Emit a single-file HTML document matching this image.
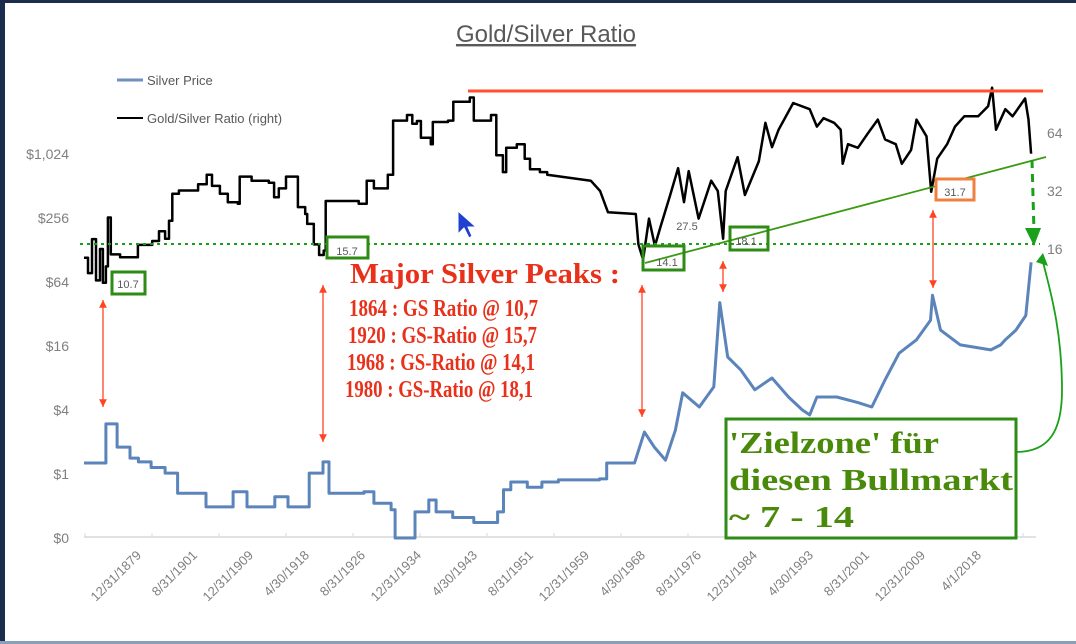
<!DOCTYPE html>
<html><head><meta charset="utf-8"><style>
html,body{margin:0;padding:0;background:#fff;}
svg{display:block;font-family:"Liberation Sans",sans-serif;}
</style></head><body>
<svg width="0" height="0" style="position:absolute">
<defs>
<marker id="ra" viewBox="0 0 10 10" refX="10" refY="5" markerWidth="6" markerHeight="6" orient="auto-start-reverse"><path d="M0,0 L10,5 L0,10 z" fill="#ff4422"/></marker>
</defs>
</svg>
<svg id="chart" width="1076" height="644" viewBox="0 0 1076 644">
<rect x="0" y="0" width="1076" height="644" fill="#fff"/>
<rect x="0" y="0" width="1076" height="3" fill="#1c2c4c"/>
<rect x="0" y="0" width="5" height="644" fill="#1c2c4c"/>
<rect x="0" y="641" width="1076" height="3" fill="#8aa0b8"/>
<text x="546" y="42" text-anchor="middle" font-size="24" fill="#595959" text-decoration="underline">Gold/Silver Ratio</text>
<g>
<line x1="117" y1="80" x2="143" y2="80" stroke="#6f8fbf" stroke-width="3"/>
<text x="147" y="85" font-size="13" fill="#595959">Silver Price</text>
<line x1="117" y1="118" x2="143" y2="118" stroke="#000" stroke-width="2"/>
<text x="147" y="123" font-size="13" fill="#595959">Gold/Silver Ratio (right)</text>
</g>
<g id="axes"></g>
<g id="marks"></g>
<g id="annot"></g>
</svg>
<script>
// ---- data ----
const leftTicks = [0.25, 1, 4, 16, 64, 256, 1024];
const leftTickLabels = ["$0", "$1", "$4", "$16", "$64", "$256", "$1,024"];
const rightTicks = [16, 32, 64];
const dateLabels = ["12/31/1879","8/31/1901","12/31/1909","4/30/1918","8/31/1926","12/31/1934","4/30/1943","8/31/1951","12/31/1959","4/30/1968","8/31/1976","12/31/1984","4/30/1993","8/31/2001","12/31/2009","4/1/2018"];
const labelYears = [1880,1901.67,1910,1918.33,1926.67,1935,1943.33,1951.67,1960,1968.33,1976.67,1985,1993.33,2001.67,2010,2018.25];
const silverYears = [1864,1868,1874,1876.1,1881.6,1886.7,1890,1895,1900.5,1903.1,1907.4,1911.5,1913.6,1917.8,1919.8,1923,1925.1,1926,1931.3,1932.8,1935.4,1936,1938.6,1939,1941.1,1942.2,1944.7,1947.9,1950.9,1951.5,1952.4,1953.5,1956,1958.2,1960.7,1966.9,1968,1972.2,1973.7,1975.2,1976.9,1978.4,1979.5,1982,1984.2,1985.1,1986.3,1988.3,1990.4,1993,1995.5,1997.6,1998.7,1999.8,2002.8,2006,2008.1,2010.1,2012.2,2014.8,2016.9,2017.2,2018.4,2021.4,2026,2027.5,2028.2,2029.8,2031.3,2032.1];
const silverValues = [1.27,1.27,1.27,2.96,1.79,1.41,1.3,1.15,1.02,0.66,0.49,0.68,0.49,0.61,0.49,1.02,1.3,0.66,0.68,0.53,0.46,0.25,0.25,0.44,0.57,0.44,0.39,0.35,0.35,0.44,0.71,0.84,0.75,0.84,0.88,0.9,1.27,1.27,2.48,1.79,1.35,2.59,5.8,4.27,6.6,41,12.6,9.5,6.2,8.0,5.3,4.0,3.6,5.3,5.3,4.7,4.27,7.7,13.7,18.3,28,48,22.6,16.4,14.7,16.4,18.3,22.6,31,98];
const ratioYears = [1864,1866.2,1868.4,1870.6,1872.8,1874.4,1876.1,1877.2,1878.8,1882.8,1885.5,1889.8,1895.4,1898.1,1900.5,1901.8,1902.3,1903.3,1905.1,1906.2,1907.5,1908.3,1909.5,1910.7,1912.2,1912.5,1914.3,1916.9,1917.7,1918.4,1919.5,1920.6,1921.3,1922.4,1922.7,1923.7,1924.5,1925.2,1925.5,1927.4,1928.4,1930.5,1931.6,1931.7,1932.8,1934.3,1934.9,1935.7,1937.8,1938.6,1939.3,1939.9,1941.4,1941.7,1944,1944.8,1947.3,1947.9,1950.5,1951.3,1952.3,1952.8,1954.4,1955.6,1956.4,1957.9,1959,1965.6,1967,1968.2,1972.4,1972.8,1973.5,1974.4,1975.3,1976.2,1977.6,1978.8,1979.7,1980.4,1981.9,1983.8,1984.8,1985.6,1986,1987.8,1988.9,1991,1992,1993,1994,1996.2,1998.7,1999.8,2000.8,2002.4,2003.4,2003.7,2004.5,2006,2007.5,2009,2010.1,2011.7,2012.6,2014,2014.8,2016.3,2017,2017.9,2019.4,2020.6,2022,2024.1,2025.6,2026.2,2026.8,2028.2,2029.3,2031.2,2031.7,2032.1];
const ratioValues = [14.4,12,18,11,16,10.7,13,23.3,15,14.5,14.5,16.8,17.6,19.8,18.1,22.4,31,32.2,32.2,34.7,38.9,34,31,28,27.5,38,36.2,35.3,29.7,33,38,38,26.4,24.3,21.6,16.9,14.9,15.7,28.4,28.4,28.4,27.5,27.5,36.2,33,33,38.9,74.2,79.4,71.4,73.9,60.4,56,73,74.2,93,97.8,74.2,79.4,49,40.1,53.6,56,47.1,41.5,40.1,38.9,36.2,32,24.8,24.3,16.9,14.1,23,16.6,21.2,30.5,42,28,40.6,23,36.2,32,18.1,32,48,30.5,45.6,72.3,54,66.6,91.6,85.1,69.1,76.4,72.3,66.6,44.3,56,53.6,63.8,75.1,59.2,56,44.3,52.3,75.1,61.5,31.7,47.1,56,69.1,78.1,78.1,88.1,110,66.6,85.1,78.1,96.7,75.1,50];

// ---- scales ----
function x(year){
  if (year < labelYears[0]) return 113 - (labelYears[0]-year)/0.552;
  for (let i=0;i<labelYears.length-1;i++){
    if (year <= labelYears[i+1]) return 113 + 55.1*(i + (year-labelYears[i])/(labelYears[i+1]-labelYears[i]));
  }
  const n = labelYears.length-1;
  return 113 + 55.1*n + (year-labelYears[n])/0.1512;
}
function yL(v){ return 474 - 32*Math.log2(v); }
function yR(r){ return 249 - 58*Math.log2(r/16); }
// step rendering for early (annual-data) era, continuous afterwards
function pathPoints(years, vals, yf, stepUntil){
  const pts = [];
  for (let i=0;i<years.length;i++){
    const px = x(years[i]), py = yf(vals[i]);
    if (i>0 && years[i] <= stepUntil){
      pts.push(px.toFixed(1)+','+yf(vals[i-1]).toFixed(1));
    }
    pts.push(px.toFixed(1)+','+py.toFixed(1));
  }
  return pts.join(' ');
}

const NS = "http://www.w3.org/2000/svg";
function mk(tag, attrs, parent, txt){
  const e = document.createElementNS(NS, tag);
  for (const k in attrs) e.setAttribute(k, attrs[k]);
  if (txt !== undefined) e.textContent = txt;
  parent.appendChild(e);
  return e;
}
const axes = document.getElementById('axes');
const marks = document.getElementById('marks');

let bl = mk('line',{x1:84,y1:537,x2:1036,y2:537,stroke:'#d9d9d9','stroke-width':1.5},axes);


for (let tx=85; tx<1036; tx+=67){
  let t = mk('line',{x1:tx,y1:533,x2:tx,y2:537,stroke:'#d9d9d9'},axes);
  
  
}
leftTicks.forEach((v,i)=>{
  let t = mk('text',{x:69,y:yL(v)+5,'text-anchor':'end','font-size':14,fill:'#7f7f7f'},axes,leftTickLabels[i]);
  
  
});
rightTicks.forEach(v=>{
  let t = mk('text',{x:1047,y:yR(v)+5,'font-size':14,fill:'#7f7f7f'},axes,String(v));
  
  
});
dateLabels.forEach((lab,i)=>{
  const lx = x(labelYears[i]) + 29 + 0.9*i;
  let t = mk('text',{x:0,y:0,'text-anchor':'end','font-size':13,fill:'#7f7f7f',transform:'translate('+lx+',556) rotate(-45)'},axes,lab);
  
  
});

let s = mk('polyline',{points:pathPoints(silverYears,silverValues,yL,1968),fill:'none',stroke:'#5b84bb','stroke-width':3,'stroke-linejoin':'round'},marks);


let r = mk('polyline',{points:pathPoints(ratioYears,ratioValues,yR,1960),fill:'none',stroke:'#000','stroke-width':2.5,'stroke-linejoin':'round'},marks);



const an = document.getElementById('annot');
an.innerHTML = `
<line x1="468" y1="91" x2="1043" y2="91" stroke="#ff5030" stroke-width="3"/>
<line x1="80" y1="244" x2="1040" y2="244" stroke="#1aa01a" stroke-width="2" stroke-dasharray="3,4"/>
<line x1="645" y1="263" x2="1046" y2="157" stroke="#3a9a10" stroke-width="1.8"/>
<line x1="1032" y1="160" x2="1034" y2="232" stroke="#1aa01a" stroke-width="3" stroke-dasharray="8,6"/>
<path d="M1025,228 L1041,228 L1034,246 z" fill="#1aa01a"/>
<path d="M1016,452 C1050,452 1062,430 1062,390 C1062,330 1050,290 1043,262" fill="none" stroke="#1aa01a" stroke-width="1.8"/>
<path d="M1036,262 L1043,253 L1048,266 z" fill="#1aa01a"/>
<rect x="112" y="272" width="33" height="22" fill="#fff" stroke="#2e8b14" stroke-width="3"/>
<text x="128" y="288" text-anchor="middle" font-size="11" fill="#595959">10.7</text>
<rect x="327" y="237" width="41" height="21" fill="#fff" stroke="#2e8b14" stroke-width="3"/>
<text x="347" y="255" text-anchor="middle" font-size="11" fill="#595959">15.7</text>
<rect x="643" y="246" width="41" height="24" fill="none" stroke="#2e8b14" stroke-width="3"/>
<text x="667" y="266" text-anchor="middle" font-size="11" fill="#595959">14.1</text>
<rect x="730" y="227" width="38" height="23" fill="none" stroke="#2e8b14" stroke-width="3"/>
<text x="746" y="245" text-anchor="middle" font-size="11" fill="#595959">18.1</text>
<rect x="936" y="179" width="38" height="21" fill="#fff" stroke="#f08040" stroke-width="3"/>
<text x="955" y="196" text-anchor="middle" font-size="11" fill="#595959">31.7</text>
<text x="687" y="230" text-anchor="middle" font-size="11" fill="#595959">27.5</text>
<path d="M458,211 L458,234 L464,228 L469,238 L472,236 L468,227 L476,227 z" fill="#2040d0" stroke="#fff" stroke-width="1"/>
<g stroke="#ff4422" stroke-width="1.3">
<line x1="103" y1="300" x2="103" y2="407" marker-start="url(#ra)" marker-end="url(#ra)"/>
<line x1="323" y1="285" x2="323" y2="442" marker-start="url(#ra)" marker-end="url(#ra)"/>
<line x1="642" y1="285" x2="642" y2="417" marker-start="url(#ra)" marker-end="url(#ra)"/>
<line x1="723" y1="261" x2="723" y2="292" marker-start="url(#ra)" marker-end="url(#ra)"/>
<line x1="933" y1="210" x2="933" y2="288" marker-start="url(#ra)" marker-end="url(#ra)"/>
</g>
<g font-family="'Liberation Serif',serif" fill="#e8301a" font-weight="bold">
<text x="350" y="283" font-size="29" textLength="270" lengthAdjust="spacingAndGlyphs">Major Silver Peaks :</text>
<text x="349" y="316" font-size="24" textLength="189" lengthAdjust="spacingAndGlyphs">1864 : GS Ratio @ 10,7</text>
<text x="348" y="343" font-size="24" textLength="189" lengthAdjust="spacingAndGlyphs">1920 : GS-Ratio @ 15,7</text>
<text x="347" y="370" font-size="24" textLength="188" lengthAdjust="spacingAndGlyphs">1968 : GS-Ratio @ 14,1</text>
<text x="345" y="397" font-size="24" textLength="188" lengthAdjust="spacingAndGlyphs">1980 : GS-Ratio @ 18,1</text>
</g>
<rect x="726" y="419" width="290" height="119" fill="#fff" stroke="#2e8b14" stroke-width="3"/>
<g font-family="'Liberation Serif',serif" font-weight="bold" fill="#4a8a0a">
<text x="729" y="453" font-size="31" textLength="210" lengthAdjust="spacingAndGlyphs">'Zielzone' für</text>
<text x="729" y="490" font-size="31" textLength="284" lengthAdjust="spacingAndGlyphs">diesen Bullmarkt</text>
<text x="729" y="527" font-size="31" textLength="125" lengthAdjust="spacingAndGlyphs">~ 7 - 14</text>
</g>`;
</script>
</body></html>
